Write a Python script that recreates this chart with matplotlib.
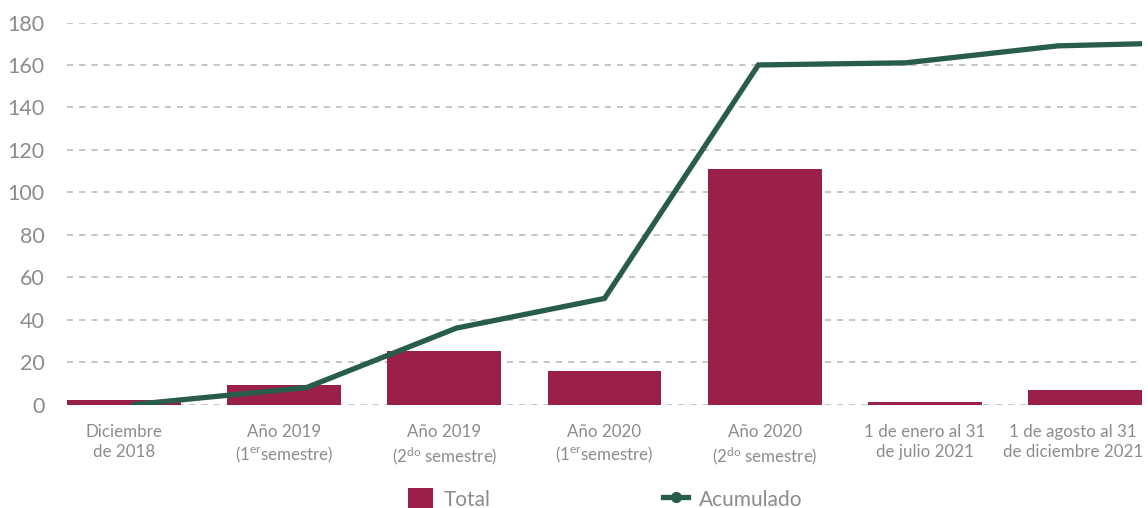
import matplotlib
matplotlib.use("Agg")
import matplotlib.pyplot as plt
import matplotlib.transforms as mtransforms
from matplotlib.lines import Line2D
from matplotlib.patches import Patch
import numpy as np

plt.rcParams['font.family'] = ['Lato', 'DejaVu Sans']
plt.rcParams['mathtext.fontset'] = 'custom'
plt.rcParams['mathtext.rm'] = 'Lato'
plt.rcParams['mathtext.it'] = 'Lato'

# data
categories = [
    "Diciembre\nde 2018",
    "Año 2019\n(1$^{\\mathrm{er}}$semestre)",
    "Año 2019\n(2$^{\\mathrm{do}}$ semestre)",
    "Año 2020\n(1$^{\\mathrm{er}}$semestre)",
    "Año 2020\n(2$^{\\mathrm{do}}$ semestre)",
    "1 de enero al 31\nde julio 2021",
    "1 de agosto al 31\nde diciembre 2021",
]
total = [2, 9, 25, 16, 111, 1, 7]
# cumulative line, drawn at its own positions (in category units)
acum_pos = [0.06, 1.14, 2.075, 3.0, 3.96, 4.88, 5.83, 6.36]
acum = [0, 8, 36, 50, 160, 161, 169, 170]
yticks = [0, 20, 40, 60, 80, 100, 120, 140, 160, 180]

BAR_COLOR = "#9B2048"
LINE_COLOR = "#285C4D"
TEXT_COLOR = "#8C8C8C"
bar_w = 0.71

fig = plt.figure(figsize=(11.48, 5.08), dpi=100)
ax = fig.add_axes([0.0584, 0.2037, 0.9364, 0.752])

x = np.arange(len(categories))
ax.bar(x, total, bar_w, color=BAR_COLOR, zorder=2)
ax.plot(acum_pos, acum, color=LINE_COLOR, lw=3.8, solid_capstyle='round',
        solid_joinstyle='miter', zorder=3)

ax.set_xlim(-bar_w / 2, len(categories) - 1 + bar_w / 2)
ax.set_ylim(0, 180)
ax.set_yticks(yticks)
ax.set_xticks(x)
ax.set_xticklabels(categories, fontsize=12.2, color=TEXT_COLOR, linespacing=1.3)
ax.tick_params(axis='y', length=0, pad=16, labelsize=15.5, labelcolor=TEXT_COLOR)
ax.tick_params(axis='x', length=0, pad=14)
for s in ax.spines.values():
    s.set_visible(False)
ax.grid(axis='y', color="#b5b5b5", linestyle=(0, (4, 4)), lw=1.1, zorder=0)
ax.set_axisbelow(True)

# last label sits a little left of its bar so it stays inside the figure
last = ax.get_xticklabels()[-1]
last.set_transform(last.get_transform() +
                   mtransforms.ScaledTranslation(-12 / 100, 0, fig.dpi_scale_trans))

handles = [
    Patch(facecolor=BAR_COLOR, edgecolor='none'),
    Line2D([0], [0], color=LINE_COLOR, lw=3.8, marker='o', markersize=7),
]
fig.legend(handles, ["Total", "Acumulado"], loc='center',
           bbox_to_anchor=(0.527, 0.018), ncol=2, frameon=False,
           fontsize=15, labelcolor=TEXT_COLOR, columnspacing=8.3,
           handlelength=1.2, handleheight=1.2, handletextpad=0.5)

fig.savefig("out.png", dpi=100)
